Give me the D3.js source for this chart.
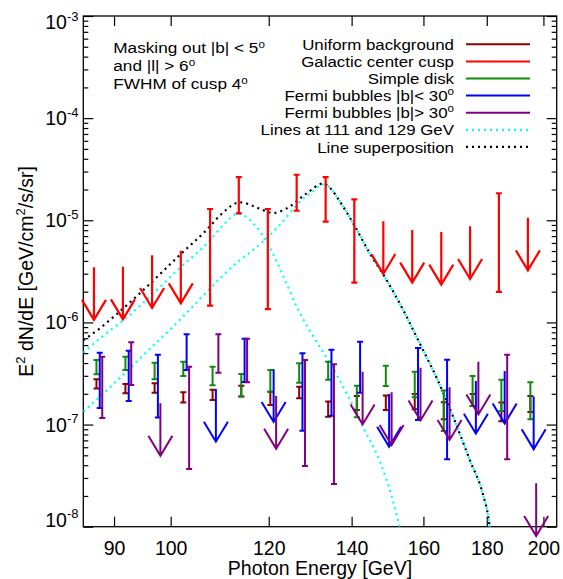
<!DOCTYPE html>
<html><head><meta charset="utf-8">
<script src="https://cdn.jsdelivr.net/npm/d3@7/dist/d3.min.js"></script>
<style>body{margin:0;background:#fff}svg{display:block;font-family:"Liberation Sans",Arial,Helvetica,sans-serif}</style>
</head><body><svg id="c" width="563" height="579"></svg>
<script>
// ---------------- data ----------------
const energyBins = [86.7, 91.5, 96.6, 101.9, 107.6, 113.5, 119.8, 126.4, 133.4, 140.7, 148.5, 156.7, 165.4, 174.5, 184.1, 194.3];

// top of each error bar (or the upper limit when the matching low value is null)
const uniformHi = [2.77e-7, 2.49e-7, 2.54e-7, 2.07e-7, 2.19e-7, 2.40e-7, 2.10e-7, 2.35e-7, 1.68e-7, 1.90e-7, 1.92e-7, 1.99e-7, 1.65e-7, 1.99e-7, 1.64e-7, 1.90e-7];
const uniformLo = [2.26e-7, 2.02e-7, 2.05e-7, 1.64e-7, 1.74e-7, 1.88e-7, 1.55e-7, 1.81e-7, 1.19e-7, 1.39e-7, 1.39e-7, 1.41e-7, 1.13e-7, 1.52e-7, 1.08e-7, 1.33e-7];

const cuspHi = [3.47e-6, 3.51e-6, 4.54e-6, 5.04e-6, 1.29e-5, 2.64e-5, 1.29e-5, 2.79e-5, 2.65e-5, 1.60e-5, 9.77e-6, 8.03e-6, 7.68e-6, 8.73e-6, 1.84e-5, 1.06e-5];
const cuspLo = [null, null, null, null, 1.46e-6, 1.17e-5, 1.35e-6, 1.24e-5, 9.68e-6, 2.45e-6, null, null, null, null, 1.99e-6, null];

const diskHi = [4.29e-7, 4.62e-7, 4.03e-7, 4.12e-7, 3.69e-7, 3.13e-7, 3.42e-7, 3.98e-7, 4.12e-7, 2.40e-7, 3.77e-7, 3.29e-7, 2.15e-7, 2.99e-7, 2.74e-7, 2.59e-7];
const diskLo = [3.10e-7, 3.42e-7, 2.77e-7, 2.99e-7, 2.42e-7, 1.88e-7, 2.10e-7, 2.57e-7, 2.74e-7, 1.18e-7, 2.39e-7, 1.85e-7, 8.65e-8, 1.52e-7, 1.36e-7, 1.13e-7];

const fbLowHi = [5.05e-7, 5.29e-7, 4.83e-7, 7.65e-7, 2.23e-7, 6.93e-7, 3.48e-7, 4.98e-7, 5.41e-7, 6.47e-7, 1.99e-7, 5.62e-7, 4.32e-7, 2.67e-7, 3.35e-7, 1.88e-7];
const fbLowLo = [1.45e-7, 1.70e-7, 1.17e-7, 3.42e-7, null, 2.61e-7, null, 8.71e-8, 1.22e-7, 2.05e-7, null, 1.11e-7, 4.57e-8, null, null, null];

const fbHighHi = [4.62e-7, 6.39e-7, 1.62e-7, 3.69e-7, 7.65e-7, 6.93e-7, 1.90e-7, 4.29e-7, 3.89e-7, 3.29e-7, 2.07e-7, 3.60e-7, 2.32e-7, 4.12e-7, 4.83e-7, 2.66e-8];
const fbHighLo = [1.16e-7, 2.44e-7, null, 3.67e-8, 3.22e-7, 2.59e-7, null, 3.93e-8, 2.62e-8, null, null, null, null, null, 4.57e-8, null];

// dotted model curves
const line111E = [85.0, 87.7, 91.6, 95.6, 101.7, 106.9, 110.3, 113.3, 116.6, 119.5, 123.7, 126.4, 130.4, 134.5, 138.7, 143.0, 147.6, 150.8, 153.1];
const line111V = [5.05e-7, 6.99e-7, 1.056e-6, 1.66e-6, 3.41e-6, 5.86e-6, 8.99e-6, 1.165e-5, 9.34e-6, 6.17e-6, 2.60e-6, 1.425e-6, 7.25e-7, 3.98e-7, 2.02e-7, 9.46e-8, 4.30e-8, 2.00e-8, 9.9e-9];

const line129E = [85.0, 89.9, 95.6, 101.7, 106.9, 112.3, 118.1, 122.5, 126.4, 130.4, 132.7, 134.5, 137.0, 140.4, 144.8, 149.4, 154.1, 158.9, 164.0, 169.1, 174.4, 178.8, 180.5, 181.0];
const line129V = [1.34e-7, 2.49e-7, 5.13e-7, 1.056e-6, 1.985e-6, 3.57e-6, 5.86e-6, 8.99e-6, 1.41e-5, 1.94e-5, 2.24e-5, 2.07e-5, 1.52e-5, 9.34e-6, 4.75e-6, 2.60e-6, 1.32e-6, 6.24e-7, 2.86e-7, 1.19e-7, 4.5e-8, 2.04e-8, 1.25e-8, 9.9e-9];

const superE = [85.0, 87.7, 89.9, 95.6, 101.7, 106.9, 110.3, 113.7, 116.6, 118.1, 121.0, 124.1, 128.8, 132.7, 134.5, 137.0, 140.4, 144.8, 149.4, 154.1, 158.9, 164.0, 169.1, 174.4, 178.8, 180.5, 181.0];
const superV = [6.7e-7, 8.8e-7, 1.13e-6, 2.22e-6, 4.57e-6, 8.03e-6, 1.2e-5, 1.50e-5, 1.38e-5, 1.29e-5, 1.18e-5, 1.31e-5, 1.84e-5, 2.29e-5, 2.07e-5, 1.52e-5, 9.34e-6, 4.75e-6, 2.60e-6, 1.32e-6, 6.24e-7, 2.86e-7, 1.19e-7, 4.5e-8, 2.04e-8, 1.25e-8, 9.9e-9];

const xTicks = [90, 100, 120, 140, 160, 180, 200];
const yTickExps = [-3, -4, -5, -6, -7, -8];
const legendLabels = ["Uniform background", "Galactic center cusp", "Simple disk", "Fermi bubbles |b|< 30", "Fermi bubbles |b|> 30", "Lines at 111 and 129 GeV", "Line superposition"];
const noteLines = ["Masking out |b| < 5", "and |l| > 6", "FWHM of cusp 4"];

// ---------------- drawing ----------------
const L = 83.3, R = 556.7, T = 16, B = 526.7;
const svg = d3.select("#c");
const x = d3.scaleLog().domain([85, 205]).range([L, R]);
const y = d3.scaleLog().domain([1e-8, 1e-3]).range([B, T]);

const C = {darkred: "#8b0000", red: "#ff0000", green: "#108a10", blue: "#0000ff", purple: "#800080", cyan: "#00ffff", black: "#000"};

svg.append("defs").append("clipPath").attr("id", "clip")
  .append("rect").attr("x", L).attr("y", T).attr("width", R - L).attr("height", B - T);

// axes ticks
const minors = [];
for (let e = -8; e < -3; e++) for (let m = 2; m <= 9; m++) minors.push(m * Math.pow(10, e));
const majors = yTickExps.map(e => Math.pow(10, e));

function styleAxis(g) {
  g.select(".domain").remove();
  g.selectAll(".tick line").attr("stroke", "#000").attr("stroke-width", 1.2);
}
svg.append("g").attr("transform", `translate(0,${B})`)
  .call(d3.axisBottom(x).tickValues(xTicks).tickSizeInner(-10).tickSizeOuter(0).tickPadding(14.5).tickFormat(d3.format("d")))
  .call(styleAxis)
  .call(g => g.selectAll("text").attr("font-size", 19.5).attr("fill", "#000").attr("font-family", "Liberation Sans, Arial, sans-serif"));
svg.append("g").attr("transform", `translate(0,${T})`)
  .call(d3.axisTop(x).tickValues(xTicks).tickSizeInner(-10).tickSizeOuter(0).tickFormat(""))
  .call(styleAxis);
[[d3.axisLeft, L], [d3.axisRight, R]].forEach(([ax, pos]) => {
  svg.append("g").attr("transform", `translate(${pos},0)`)
    .call(ax(y).tickValues(majors).tickSizeInner(-10).tickSizeOuter(0).tickFormat(""))
    .call(styleAxis);
  svg.append("g").attr("transform", `translate(${pos},0)`)
    .call(ax(y).tickValues(minors).tickSizeInner(-5).tickSizeOuter(0).tickFormat(""))
    .call(styleAxis);
});

// y tick labels with superscripts
yTickExps.forEach((e, i) => {
  const ty = y(Math.pow(10, e));
  let base = ty + 7;
  if (i === 0) base = ty + 13.3;
  if (i === yTickExps.length - 1) base = ty;
  const t = svg.append("text").attr("x", 78.5).attr("y", base).attr("text-anchor", "end")
    .attr("font-size", 19.5).attr("fill", "#000");
  t.append("tspan").text("10");
  t.append("tspan").attr("dy", -8.6).attr("font-size", 13).text(String(e));
});

// frame
svg.append("rect").attr("x", L).attr("y", T).attr("width", R - L).attr("height", B - T)
  .attr("fill", "none").attr("stroke", "#000").attr("stroke-width", 1.3);

// axis titles
svg.append("text").attr("x", (L + R) / 2).attr("y", 575).attr("text-anchor", "middle")
  .attr("font-size", 19.5).text("Photon Energy [GeV]");
const yt = svg.append("text").attr("transform", `translate(33,${(T + B) / 2}) rotate(-90)`)
  .attr("text-anchor", "middle").attr("font-size", 19.5);
yt.append("tspan").text("E");
yt.append("tspan").attr("dy", -8).attr("font-size", 13).text("2");
yt.append("tspan").attr("dy", 8).text(" dN/dE [GeV/cm");
yt.append("tspan").attr("dy", -8).attr("font-size", 13).text("2");
yt.append("tspan").attr("dy", 8).text("/s/sr]");

// dotted curves
const lineGen = d3.line().x(d => x(d[0])).y(d => y(d[1])).curve(d3.curveMonotoneX);
const curves = svg.append("g").attr("clip-path", "url(#clip)");
[[line111E, line111V, C.cyan], [line129E, line129V, C.cyan], [superE, superV, C.black]].forEach(([E, V, col]) => {
  curves.append("path").attr("d", lineGen(E.map((e, i) => [e, V[i]])))
    .attr("fill", "none").attr("stroke", col).attr("stroke-width", 2.2).attr("stroke-dasharray", "2,4");
});

// data series
const series = [
  {hi: uniformHi, lo: uniformLo, color: C.darkred, dx: 2.5, w: 2},
  {hi: cuspHi, lo: cuspLo, color: C.red, dx: 0, w: 2.2},
  {hi: diskHi, lo: diskLo, color: C.green, dx: 2.5, w: 2},
  {hi: fbLowHi, lo: fbLowLo, color: C.blue, dx: 5.8, w: 2},
  {hi: fbHighHi, lo: fbHighLo, color: C.purple, dx: 8.3, w: 2},
];
const cap = 3, wingX = 12, wingY = 20, arrowFactor = 0.305;
series.forEach(s => {
  const g = svg.append("g").attr("stroke", s.color).attr("stroke-width", s.w).attr("fill", "none");
  energyBins.forEach((e, i) => {
    const px = x(e) + s.dx;
    const hi = s.hi[i], lo = s.lo[i];
    if (lo !== null) {
      const y0 = y(hi), y1 = y(lo);
      g.append("path").attr("d", `M${px},${y0}V${y1}M${px - cap},${y0}H${px + cap}M${px - cap},${y1}H${px + cap}`);
    } else {
      const y0 = y(hi), y1 = y(hi * arrowFactor);
      g.append("path").attr("d", `M${px},${y0}V${y1}M${px - wingX},${y1 - wingY}L${px},${y1}L${px + wingX},${y1 - wingY}`);
    }
  });
});

// legend (compact glyph height, widened horizontally to keep the reference widths)
const legColors = [C.darkred, C.red, C.green, C.blue, C.purple, C.cyan, C.black];
legendLabels.forEach((lab, i) => {
  const ly = 44.3 + i * 17.1;
  const t = svg.append("text").attr("transform", `translate(454,${ly + 5.6}) scale(1.11,1)`)
    .attr("text-anchor", "end").attr("font-size", 15.2);
  if (i === 3 || i === 4) {
    t.append("tspan").text(lab);
    t.append("tspan").attr("dy", -6).attr("font-size", 10.5).text("o");
  } else t.text(lab);
  const ln = svg.append("line").attr("x1", 466).attr("x2", 530).attr("y1", ly).attr("y2", ly)
    .attr("stroke", legColors[i]).attr("stroke-width", i >= 5 ? 2.2 : 2);
  if (i >= 5) ln.attr("stroke-dasharray", "2,4");
});

// note
noteLines.forEach((s, i) => {
  const t = svg.append("text").attr("transform", `translate(113.3,${53 + i * 17.9}) scale(1.11,1)`)
    .attr("font-size", 15.5);
  t.append("tspan").text(s);
  t.append("tspan").attr("dy", -5).attr("font-size", 10.5).text("o");
});
</script>
</body></html>
